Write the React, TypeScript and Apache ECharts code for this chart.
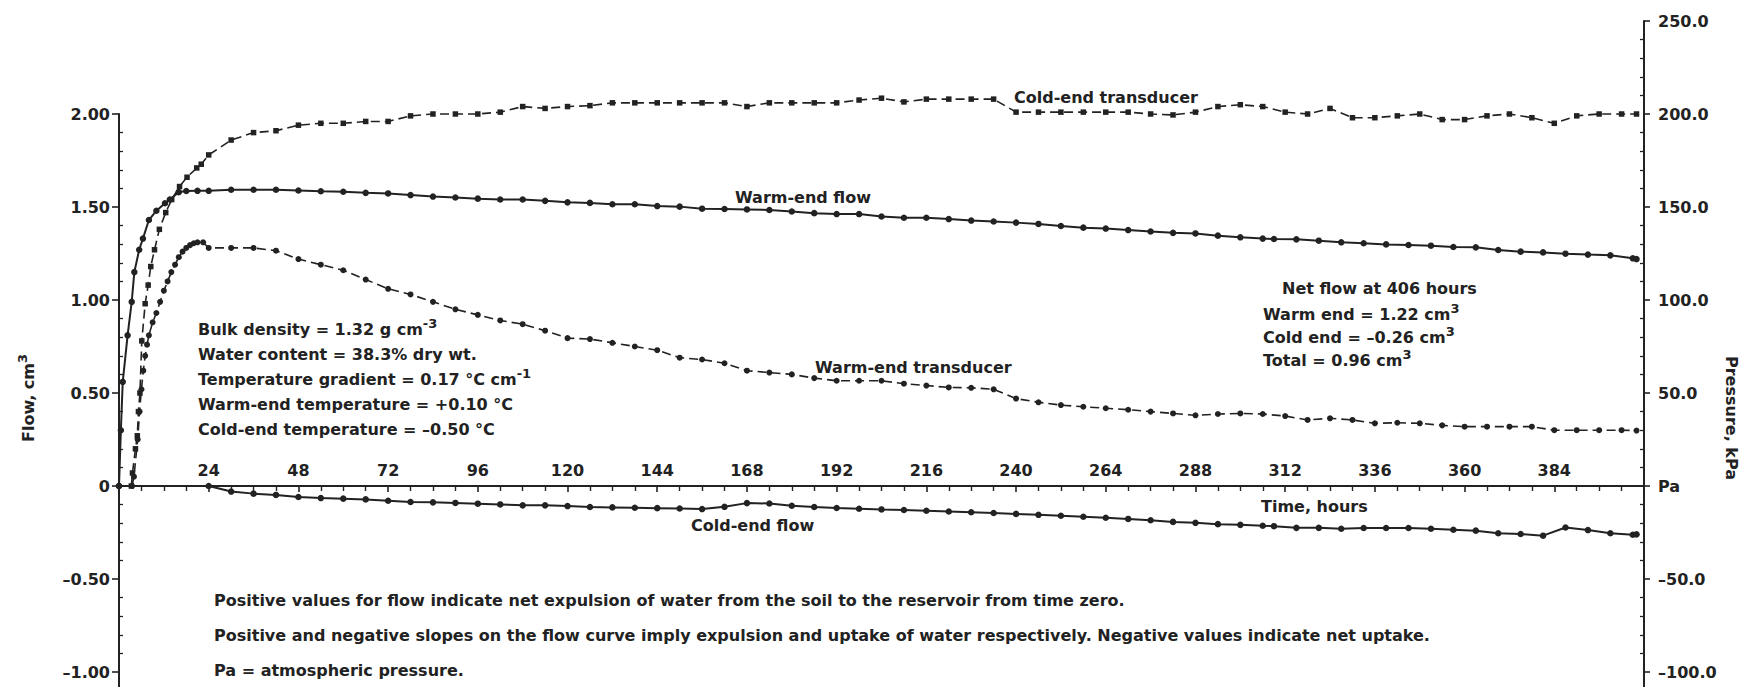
import React, { useEffect, useRef } from "react";
import * as echarts from "echarts";

const W = 1748;
const H = 687;
const FONT = '"DejaVu Sans", "Liberation Sans", sans-serif';
const INK = "#222222";

// Warm-end flow (cm3) against time (hours)
const warmFlowHours = [
  0, 0.5, 1, 2.3, 3.4, 4.1, 5.4, 6.4, 8, 10, 12.3, 13.6, 16, 18, 21,
  24, 30, 36, 42, 48, 54, 60, 66, 72, 78, 84, 90, 96, 102, 108, 114, 120, 126,
  132, 138, 144, 150, 156, 162, 168, 174, 180, 186, 192, 198, 204, 210, 216, 222,
  228, 234, 240, 246, 252, 258, 264, 270, 276, 282, 288, 294, 300, 306,
  309, 315, 321, 327, 333, 339, 345, 351, 357, 363, 369, 375, 381, 387, 393, 399, 405, 406,
];
const warmFlowValues = [
  0, 0.3, 0.56, 0.81, 0.99, 1.15, 1.27, 1.33, 1.43, 1.48, 1.52, 1.54, 1.58, 1.586, 1.587,
  1.587, 1.593, 1.593, 1.593, 1.589, 1.585, 1.582, 1.576, 1.573, 1.564, 1.556, 1.551, 1.545, 1.54, 1.54, 1.533, 1.525, 1.522,
  1.515, 1.515, 1.505, 1.502, 1.491, 1.489, 1.487, 1.484, 1.476, 1.467, 1.462, 1.462, 1.449, 1.442, 1.442, 1.435,
  1.427, 1.422, 1.416, 1.409, 1.398, 1.389, 1.384, 1.376, 1.368, 1.361, 1.358, 1.346, 1.337, 1.33,
  1.328, 1.326, 1.319, 1.31, 1.305, 1.299, 1.296, 1.292, 1.285, 1.283, 1.269, 1.26, 1.256, 1.249, 1.244, 1.24, 1.224, 1.22,
];

// Cold-end flow (cm3)
const coldFlowHours = [
  0, 24, 30, 36, 42, 48, 54, 60, 66, 72, 78, 84, 90, 96, 102, 108, 114, 120, 126,
  132, 138, 144, 150, 156, 162, 168, 174, 180, 186, 192, 198, 204, 210, 216, 222,
  228, 234, 240, 246, 252, 258, 264, 270, 276, 282, 288, 294, 300, 306,
  309, 315, 321, 327, 333, 339, 345, 351, 357, 363, 369, 375, 381, 387, 393, 399, 405, 406,
];
const coldFlowValues = [
  0, 0, -0.03, -0.041, -0.048, -0.059, -0.065, -0.068, -0.072, -0.079, -0.086, -0.088, -0.091, -0.095, -0.099, -0.104, -0.104, -0.108, -0.113,
  -0.115, -0.117, -0.119, -0.121, -0.124, -0.112, -0.092, -0.094, -0.106, -0.113, -0.118, -0.122, -0.126, -0.129, -0.133, -0.137,
  -0.141, -0.145, -0.15, -0.155, -0.16, -0.165, -0.171, -0.177, -0.184, -0.193, -0.198, -0.205, -0.209, -0.214,
  -0.216, -0.225, -0.225, -0.23, -0.226, -0.226, -0.226, -0.23, -0.235, -0.24, -0.254, -0.258, -0.267, -0.223, -0.237, -0.254, -0.262, -0.26,
];

// Cold-end transducer pressure (kPa)
const coldPressHours = [
  3.3, 3.6, 4.4, 4.9, 5.2, 5.6, 6.1, 7, 7.8, 8.5, 9.5, 10.8, 12.5, 14.1, 16.2, 18.2, 20.8, 22,
  24, 30, 36, 42, 48, 54, 60, 66, 72, 78, 84, 90, 96, 102, 108, 114, 120, 126,
  132, 138, 144, 150, 156, 162, 168, 174, 180, 186, 192, 198, 204, 210, 216, 222,
  228, 234, 240, 246, 252, 258, 264, 270, 276, 282, 288, 294, 300, 306,
  312, 318, 324, 330, 336, 342, 348, 354, 360, 366, 372, 378, 384, 390, 396, 402, 406,
];
const coldPressValues = [
  0, 7, 20, 27, 40, 50, 78, 98, 108, 118, 127, 138, 147, 154, 161, 166, 171, 173,
  178, 186, 190, 191, 194, 195, 195, 196, 196, 199, 200, 200, 200, 201, 204, 203, 204, 204.5,
  206, 206, 206, 206, 206, 206, 204, 206, 206, 206, 206, 207.5, 208.5, 206.5, 208, 208,
  208, 208, 201, 201, 201, 201, 201, 201, 200, 199.5, 201, 204, 205, 204,
  201, 200, 203, 198, 198, 199, 200, 197, 197, 199, 200, 198, 195, 199, 200, 200, 200,
];

// Warm-end transducer pressure (kPa)
const warmPressHours = [
  3.5, 4, 5, 5.5, 6, 6.5, 7, 7.5, 8, 9, 10, 11, 12, 13, 14, 15, 16, 17, 18, 19, 20, 21, 22.5,
  24, 30, 36, 42, 48, 54, 60, 66, 72, 78, 84, 90, 96, 102, 108, 114, 120, 126,
  132, 138, 144, 150, 156, 162, 168, 174, 180, 186, 192, 198, 204, 210, 216, 222,
  228, 234, 240, 246, 252, 258, 264, 270, 276, 282, 288, 294, 300, 306,
  312, 318, 324, 330, 336, 342, 348, 354, 360, 366, 372, 378, 384, 390, 396, 402, 406,
];
const warmPressValues = [
  0, 5, 25, 40, 52, 62, 70, 76, 81, 88, 93, 99, 105, 110, 115, 119, 123, 126, 128, 129.5, 130.5, 131, 131,
  128, 128, 128, 126.5, 122, 119, 116, 111, 106, 103, 99, 95, 92, 89, 87, 83.5, 79.5, 79,
  77, 75, 73, 69, 68, 66, 62, 61, 60, 58, 56.6, 56.6, 56.6, 55, 54, 53,
  52.8, 52, 47, 45, 43.5, 42.6, 41.8, 41, 40, 39, 38, 38.7, 39, 38.7,
  37.6, 35.5, 36.4, 35.5, 33.7, 34, 33.7, 32.6, 31.9, 31.9, 31.9, 31.9, 30, 30, 30, 30, 29.8,
];

// Axis settings
const timeMin = 0;
const timeMax = 408;
const timeStep = 24;
const flowMin = -1;
const flowMax = 2;
const flowStep = 0.5;
const pressMin = -100;
const pressMax = 250;
const pressStep = 50;

const paramLines = [
  "{t|Bulk density = 1.32 g cm}{s|-3}",
  "{t|Water content = 38.3% dry wt.}",
  "{t|Temperature gradient = 0.17 °C cm}{s|-1}",
  "{t|Warm-end temperature = +0.10 °C}",
  "{t|Cold-end temperature = –0.50 °C}",
];
const netLines = [
  "{t|Warm end = 1.22 cm}{s|3}",
  "{t|Cold end = –0.26 cm}{s|3}",
  "{t|Total = 0.96 cm}{s|3}",
];
const noteLines = [
  "Positive values for flow indicate net expulsion of water from the soil to the reservoir from time zero.",
  "Positive and negative slopes on the flow curve imply expulsion and uptake of water respectively. Negative values indicate net uptake.",
  "Pa = atmospheric pressure.",
];

const pairs = (xs: number[], ys: number[]) => xs.map((x, i) => [x, ys[i]]);

const rich = {
  t: { fontFamily: FONT, fontWeight: "bold", fontSize: 16, fill: INK, lineHeight: 24 },
  s: { fontFamily: FONT, fontWeight: "bold", fontSize: 13, fill: INK, lineHeight: 6, verticalAlign: "top" },
};

function txt(text: string, x: number, y: number, extra: any = {}) {
  const align = extra.align || "left";
  return {
    type: "text",
    x,
    y,
    rotation: extra.rotation || 0,
    silent: true,
    z: 50,
    style: {
      text,
      rich,
      fontFamily: FONT,
      fontWeight: "bold",
      fontSize: 16,
      fill: INK,
      align,
      textAlign: align,
      verticalAlign: "middle",
      textVerticalAlign: "middle",
    },
  };
}

const fmtFlow = (v: number) => {
  if (Math.abs(v) < 1e-9) return "0";
  return v < 0 ? "–" + Math.abs(v).toFixed(2) : v.toFixed(2);
};
const fmtPress = (v: number) => {
  if (Math.abs(v) < 1e-9) return "Pa";
  return v < 0 ? "–" + Math.abs(v).toFixed(1) : v.toFixed(1);
};

const axisLabelBase = { fontFamily: FONT, fontWeight: "bold", fontSize: 16, color: INK };
const inkLine = { color: INK, width: 2 };

const GRID_LEFT = 119;
const GRID_RIGHT = 104;
const GRID_BOTTOM = 15;
const FLOW_TOP = 114;
const PRESS_TOP = 21;
const plotWidth = W - GRID_LEFT - GRID_RIGHT;
const flowHeight = H - FLOW_TOP - GRID_BOTTOM;
// the time axis runs along flow = 0
const timeAxisOffset = -flowHeight * (0 - flowMin) / (flowMax - flowMin);

const minorTickStyle = { color: INK, width: 1.3 };

const option: any = {
  animation: false,
  backgroundColor: "#ffffff",
  grid: [
    { left: GRID_LEFT, right: GRID_RIGHT, top: FLOW_TOP, bottom: GRID_BOTTOM },
    { left: GRID_LEFT, right: GRID_RIGHT, top: PRESS_TOP, bottom: GRID_BOTTOM },
  ],
  xAxis: [
    {
      type: "value",
      gridIndex: 0,
      position: "bottom",
      offset: timeAxisOffset,
      min: timeMin,
      max: timeMax,
      interval: timeStep,
      axisLine: { show: true, onZero: false, lineStyle: inkLine },
      axisTick: { show: true, length: 6, lineStyle: { color: INK, width: 1.6 } },
      minorTick: { show: true, splitNumber: 4, length: 5, lineStyle: { color: INK, width: 1.4 } },
      axisLabel: {
        ...axisLabelBase,
        inside: true,
        margin: 8,
        formatter: (v: number) => (v === timeMin || v === timeMax ? "" : String(v)),
      },
      splitLine: { show: false },
    },
    { type: "value", gridIndex: 1, min: timeMin, max: timeMax, interval: timeStep, show: false },
  ],
  yAxis: [
    {
      type: "value",
      gridIndex: 0,
      position: "left",
      min: flowMin,
      max: flowMax,
      interval: flowStep,
      axisLine: { show: true, onZero: false, lineStyle: inkLine },
      axisTick: { show: true, length: 7, lineStyle: { color: INK, width: 1.6 } },
      axisLabel: { ...axisLabelBase, margin: 9, formatter: fmtFlow },
      splitLine: { show: false },
    },
    {
      type: "value",
      gridIndex: 1,
      position: "right",
      min: pressMin,
      max: pressMax,
      interval: pressStep,
      axisLine: { show: true, onZero: false, lineStyle: inkLine },
      axisTick: { show: true, length: 6, lineStyle: { color: INK, width: 1.6 } },
      axisLabel: { ...axisLabelBase, margin: 14, formatter: fmtPress },
      splitLine: { show: false },
    },
    {
      // short ticks on the inner side of the flow scale
      type: "value",
      gridIndex: 0,
      position: "right",
      offset: -plotWidth,
      min: flowMin,
      max: flowMax,
      interval: flowStep,
      axisLine: { show: false, onZero: false },
      axisTick: { show: false },
      minorTick: { show: true, splitNumber: 5, length: 4, lineStyle: minorTickStyle },
      axisLabel: { show: false },
      splitLine: { show: false },
    },
    {
      // short ticks on the inner side of the pressure scale
      type: "value",
      gridIndex: 1,
      position: "left",
      offset: -plotWidth,
      min: pressMin,
      max: pressMax,
      interval: pressStep,
      axisLine: { show: false, onZero: false },
      axisTick: { show: false },
      minorTick: { show: true, splitNumber: 5, length: 4, lineStyle: minorTickStyle },
      axisLabel: { show: false },
      splitLine: { show: false },
    },
  ],
  series: [
    {
      name: "Warm-end flow",
      type: "line",
      xAxisIndex: 0,
      yAxisIndex: 0,
      data: pairs(warmFlowHours, warmFlowValues),
      symbol: "circle",
      symbolSize: 6.5,
      showAllSymbol: true,
      lineStyle: { color: INK, width: 2 },
      itemStyle: { color: INK },
      z: 5,
    },
    {
      name: "Cold-end flow",
      type: "line",
      xAxisIndex: 0,
      yAxisIndex: 0,
      data: pairs(coldFlowHours, coldFlowValues),
      symbol: "circle",
      symbolSize: 6.5,
      showAllSymbol: true,
      lineStyle: { color: INK, width: 2 },
      itemStyle: { color: INK },
      z: 5,
    },
    {
      name: "Cold-end transducer",
      type: "line",
      xAxisIndex: 1,
      yAxisIndex: 1,
      data: pairs(coldPressHours, coldPressValues),
      symbol: "rect",
      symbolSize: 5.5,
      showAllSymbol: true,
      lineStyle: { color: INK, width: 1.6, type: [9, 5] },
      itemStyle: { color: INK },
      z: 4,
    },
    {
      name: "Warm-end transducer",
      type: "line",
      xAxisIndex: 1,
      yAxisIndex: 1,
      data: pairs(warmPressHours, warmPressValues),
      symbol: "circle",
      symbolSize: 6,
      showAllSymbol: true,
      lineStyle: { color: INK, width: 1.6, type: [9, 5] },
      itemStyle: { color: INK },
      z: 4,
    },
  ],
  graphic: [
    // axis lines carried to the lower edge
    { type: "line", silent: true, shape: { x1: GRID_LEFT, y1: H - GRID_BOTTOM, x2: GRID_LEFT, y2: H }, style: { stroke: INK, lineWidth: 2 } },
    { type: "line", silent: true, shape: { x1: W - GRID_RIGHT, y1: H - GRID_BOTTOM, x2: W - GRID_RIGHT, y2: H }, style: { stroke: INK, lineWidth: 2 } },
    // axis names
    txt("{t|Flow, cm}{s|3}", 28, 398, { align: "center", rotation: Math.PI / 2 }),
    txt("{t|Pressure, kPa}", 1731, 418, { align: "center", rotation: -Math.PI / 2 }),
    txt("{t|Time, hours}", 1261, 506),
    // curve names
    txt("{t|Cold-end transducer}", 1014, 97),
    txt("{t|Warm-end flow}", 735, 197),
    txt("{t|Warm-end transducer}", 815, 367),
    txt("{t|Cold-end flow}", 691, 525),
    // test conditions
    ...paramLines.map((s, i) => txt(s, 198, 329 + i * 25)),
    // net flow summary
    txt("{t|Net flow at 406 hours}", 1282, 288),
    ...netLines.map((s, i) => txt(s, 1263, 314 + i * 23)),
    // notes
    ...noteLines.map((s, i) => txt("{t|" + s + "}", 214, 600 + i * 35)),
  ],
};

export default function App() {
  const ref = useRef<HTMLDivElement>(null);
  useEffect(() => {
    if (!ref.current) return;
    const chart = echarts.init(ref.current, undefined, { renderer: "svg", width: W, height: H });
    chart.setOption(option);
    return () => chart.dispose();
  }, []);
  return (
    <div
      ref={ref}
      style={{ position: "absolute", left: 0, top: 0, width: W, height: H, background: "#fff" }}
    />
  );
}
